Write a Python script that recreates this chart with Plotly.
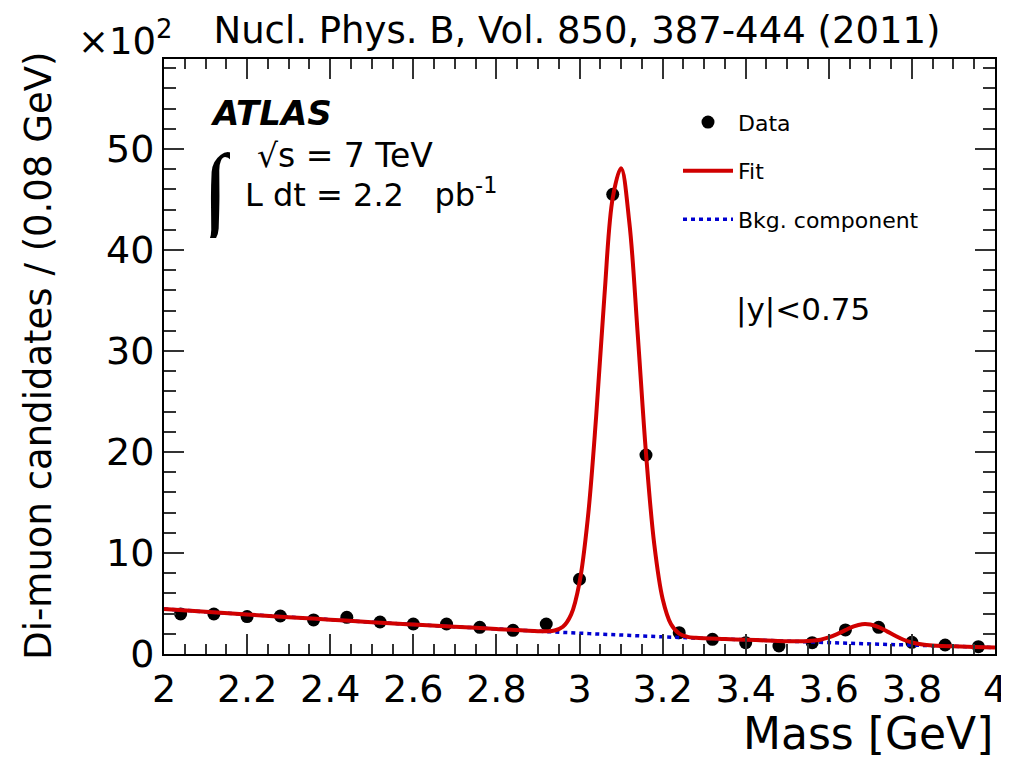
import plotly.graph_objects as go

# Data points (units of 10^2 candidates / 0.08 GeV)
mass = [2.04, 2.12, 2.20, 2.28, 2.36, 2.44, 2.52, 2.60, 2.68, 2.76, 2.84, 2.92, 3.00,
        3.08, 3.16, 3.24, 3.32, 3.40, 3.48, 3.56, 3.64, 3.72, 3.80, 3.88, 3.96]
counts = [3.96, 3.96, 3.70, 3.76, 3.37, 3.63, 3.17, 2.97, 2.97, 2.64, 2.34, 2.97, 7.4,
          45.5, 19.7, 2.11, 1.45, 1.12, 0.79, 1.12, 2.38, 2.64, 1.16, 0.89, 0.73]

# Fit curve
fit_x = [2.0, 2.1, 2.2, 2.3, 2.4, 2.5, 2.6, 2.7, 2.8, 2.9, 2.92, 2.94, 2.96, 2.98, 3.00,
         3.02, 3.04, 3.06, 3.08, 3.10, 3.12, 3.14, 3.16, 3.18, 3.20, 3.22, 3.24, 3.26,
         3.28, 3.30, 3.35, 3.40, 3.45, 3.50, 3.55, 3.58, 3.60, 3.62, 3.64, 3.66, 3.68,
         3.70, 3.72, 3.74, 3.76, 3.78, 3.80, 3.83, 3.86, 3.90, 3.95, 4.00]
fit_y = [4.46, 4.18, 3.91, 3.65, 3.40, 3.15, 2.92, 2.70, 2.48, 2.26, 2.25, 2.32, 2.69, 3.92, 7.07,
         13.43, 23.47, 35.46, 45.16, 48.08, 42.70, 31.72, 19.89, 10.83, 5.47, 2.97, 2.01, 1.70,
         1.60, 1.55, 1.48, 1.41, 1.34, 1.27, 1.28, 1.42, 1.64, 1.97, 2.36, 2.73, 2.95,
         2.92, 2.66, 2.24, 1.80, 1.41, 1.14, 0.92, 0.82, 0.76, 0.70, 0.64]

# Background component
bkg_x = [2.0, 2.1, 2.2, 2.3, 2.4, 2.5, 2.6, 2.7, 2.8, 2.9, 3.0, 3.1, 3.2, 3.3, 3.4,
         3.5, 3.6, 3.7, 3.8, 3.9, 4.0]
bkg_y = [4.46, 4.18, 3.91, 3.65, 3.40, 3.15, 2.92, 2.70, 2.48, 2.26, 2.06, 1.88, 1.70, 1.55, 1.41,
         1.27, 1.13, 1.00, 0.88, 0.76, 0.64]

x_ticks = [2, 2.2, 2.4, 2.6, 2.8, 3, 3.2, 3.4, 3.6, 3.8, 4]
x_ticklabels = ["2", "2.2", "2.4", "2.6", "2.8", "3", "3.2", "3.4", "3.6", "3.8", "4"]
y_ticks = [0, 10, 20, 30, 40, 50]
y_ticklabels = ["0", "10", "20", "30", "40", "50"]

FONT = "DejaVu Sans, Liberation Sans, Arial, sans-serif"

fig = go.Figure()
fig.add_trace(go.Scatter(x=mass, y=counts, mode="markers", name="Data",
                         legendgroup="a", legendrank=1,
                         marker=dict(color="black", size=13)))
fig.add_trace(go.Scatter(x=bkg_x, y=bkg_y, mode="lines", name="Bkg. component",
                         legendgroup="c", legendrank=3,
                         line=dict(color="#0000d0", width=3.5, dash="4px,4px", shape="spline")))
fig.add_trace(go.Scatter(x=fit_x, y=fit_y, mode="lines", name="Fit",
                         legendgroup="b", legendrank=2,
                         line=dict(color="#d00000", width=4, shape="spline")))

axis_common = dict(
    showgrid=False, zeroline=False, showline=True, linecolor="black", linewidth=2,
    mirror="ticks", ticks="inside", tickcolor="#333", tickwidth=2, automargin=False,
    tickfont=dict(family=FONT, size=38, color="black"),
)

fig.update_xaxes(range=[2, 4], tickvals=x_ticks, ticktext=x_ticklabels, ticklen=20,
                 minor=dict(dtick=0.05, tick0=2, ticks="inside", ticklen=10,
                            tickcolor="#333", tickwidth=2),
                 **axis_common)
fig.update_yaxes(range=[0, 58.9], tickvals=y_ticks, ticktext=y_ticklabels, ticklen=20,
                 minor=dict(dtick=2, tick0=0, ticks="inside", ticklen=12,
                            tickcolor="#333", tickwidth=2),
                 **axis_common)

annotations = [
    dict(x=2.106, y=53.6, xref="x", yref="y", text="<b><i>ATLAS</i></b>", showarrow=False,
         xanchor="left", yanchor="middle", height=36,
         font=dict(family=FONT, size=34, color="black")),
    dict(x=2.123, y=45.9, xref="x", yref="y", text="∫", showarrow=False,
         xanchor="center", yanchor="middle", height=96, width=30,
         font=dict(family="DejaVu Sans", size=98, color="black", weight=200)),
    dict(x=2.22, y=49.3, xref="x", yref="y", text="√s = 7 TeV", showarrow=False,
         xanchor="left", yanchor="middle", font=dict(family=FONT, size=33, color="black")),
    dict(x=2.19, y=45.6, xref="x", yref="y", text="L dt = 2.2   pb<sup>-1</sup>", showarrow=False,
         xanchor="left", yanchor="middle", font=dict(family=FONT, size=32, color="black")),
    dict(x=3.372, y=34.1, xref="x", yref="y", text="|y|<0.75", showarrow=False,
         xanchor="left", yanchor="middle", font=dict(family=FONT, size=31, color="black")),
    dict(x=-0.106, y=1.035, xref="paper", yref="paper", text="×10<sup>2</sup>", showarrow=False,
         xanchor="left", yanchor="middle", font=dict(family=FONT, size=37, color="black")),
    dict(x=1.0, y=-0.133, xref="paper", yref="paper", text="Mass [GeV]", showarrow=False,
         xanchor="right", yanchor="middle", font=dict(family=FONT, size=44, color="black")),
    dict(x=-0.152, y=1.015, xref="paper", yref="paper", text="Di-muon candidates / (0.08 GeV)",
         showarrow=False, textangle=-90, xanchor="center", yanchor="top",
         font=dict(family=FONT, size=37, color="black")),
]

# The page body has an 8px margin, so the figure is 8px smaller than the window.
fig.update_layout(
    width=1001, height=750,
    margin=dict(l=156, r=14, t=51, b=104),
    paper_bgcolor="white", plot_bgcolor="white",
    title=dict(text="Nucl. Phys. B, Vol. 850, 387-444 (2011)", x=(577 - 8) / 1001,
               y=1 - (30 - 8) / 750,
               xanchor="center", yanchor="middle", font=dict(family=FONT, size=37, color="black")),
    showlegend=True,
    legend=dict(x=(678 - 164) / 831, y=0.929, xanchor="left", yanchor="top",
                bgcolor="rgba(0,0,0,0)", itemwidth=50,
                font=dict(family=FONT, size=22, color="black"), tracegroupgap=17,
                traceorder="grouped"),
    annotations=annotations,
)

fig.write_html("out.html")
